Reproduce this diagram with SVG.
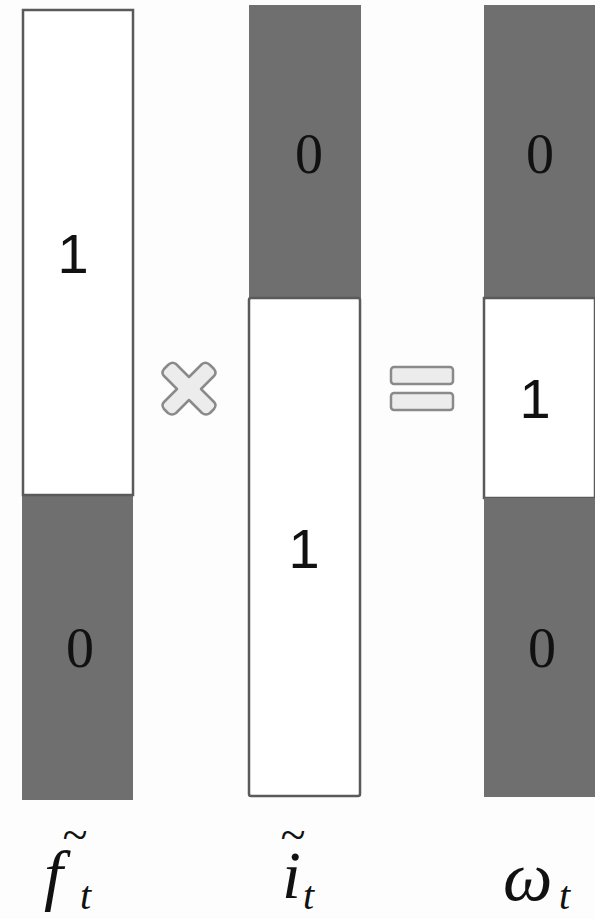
<svg xmlns="http://www.w3.org/2000/svg" width="595" height="919" viewBox="0 0 595 919">
<style>
.dark{fill:#6f6f6f;stroke:none}
.white{fill:#ffffff;stroke:#5a5a5a;stroke-width:2.5}
.one{font-family:"Liberation Sans",Arial,sans-serif;font-size:56px;fill:#111;text-anchor:middle}
.zero{font-family:"Liberation Serif","Times New Roman",serif;font-size:56px;fill:#111;text-anchor:middle}
.math{font-family:"Liberation Serif","Times New Roman",serif;font-style:italic;fill:#111}
.op{fill:#ececec;stroke:#8a8a8a;stroke-width:2.5;stroke-linejoin:round}
</style>
<rect width="595" height="919" fill="#fdfdfd"/>
<g id="bar-f">
  <rect class="dark" x="22" y="495" width="111" height="305"/>
  <rect class="white" x="23" y="10" width="110" height="485"/>
  <text class="one" x="73" y="273">1</text>
  <text class="zero" x="80" y="667">0</text>
</g>
<g id="bar-i">
  <rect class="dark" x="249" y="5" width="112" height="293"/>
  <rect class="white" x="249" y="298" width="111" height="498" rx="2"/>
  <text class="zero" x="309" y="173">0</text>
  <text class="one" x="304" y="568">1</text>
</g>
<g id="bar-w">
  <rect class="dark" x="484" y="5" width="111" height="293"/>
  <rect class="white" x="484" y="298" width="111" height="200"/>
  <rect class="dark" x="484" y="498" width="111" height="299"/>
  <text class="zero" x="540" y="173">0</text>
  <text class="one" x="535" y="418">1</text>
  <text class="zero" x="542" y="667">0</text>
</g>
<g id="times">
  <path class="op" d="M176,364 L189,377 L202,364 Q206,361 210,365 L214,369 Q217,373 214,376 L201,389 L214,402 Q217,405 214,409 L210,413 Q206,416 202,413 L189,400 L176,413 Q172,416 168,413 L164,409 Q161,405 164,402 L177,389 L164,376 Q161,373 164,369 L168,365 Q172,361 176,364 Z"/>
</g>
<g id="equals">
  <rect class="op" x="391" y="367" width="62" height="17" rx="3"/>
  <rect class="op" x="391" y="393" width="62" height="17" rx="3"/>
</g>
<g id="label-f">
  <text class="math" x="44" y="898" font-size="68">f</text>
  <text class="math" x="62" y="850" font-size="46">~</text>
  <text class="math" x="80" y="909" font-size="40">t</text>
</g>
<g id="label-i">
  <text class="math" x="282" y="898" font-size="68">i</text>
  <text class="math" x="280" y="850" font-size="46">~</text>
  <text class="math" x="303" y="909" font-size="40">t</text>
</g>
<g id="label-w">
  <text class="math" x="503" y="900" font-size="70">ω</text>
  <text class="math" x="559" y="909" font-size="40">t</text>
</g>
</svg>
